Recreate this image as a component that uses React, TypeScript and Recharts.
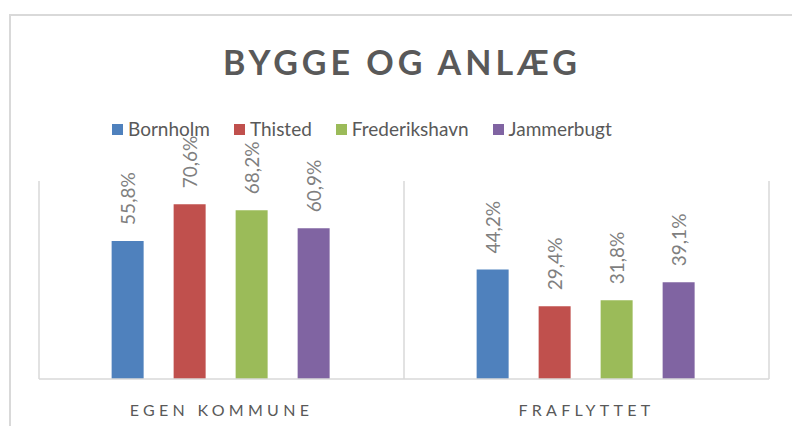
import { BarChart, Bar, XAxis, YAxis, CartesianGrid, LabelList } from "recharts";

// categories and series
const CATEGORIES = ["EGEN KOMMUNE", "FRAFLYTTET"];
const SERIES = ["Bornholm", "Thisted", "Frederikshavn", "Jammerbugt"];
const COLORS = ["#4F81BD", "#C0504D", "#9BBB59", "#8064A2"];

// percent values per category
const BORNHOLM = [55.8, 44.2];
const THISTED = [70.6, 29.4];
const FREDERIKSHAVN = [68.2, 31.8];
const JAMMERBUGT = [60.9, 39.1];

const VALUES = [BORNHOLM, THISTED, FREDERIKSHAVN, JAMMERBUGT];

const data = CATEGORIES.map((category, i) => {
  const row: Record<string, string | number> = { category };
  SERIES.forEach((s, j) => {
    row[s] = VALUES[j][i];
  });
  return row;
});

const FONT = "Lato, 'Open Sans', sans-serif";

function ValueLabel(props: any) {
  const { x, y, width, value } = props;
  const cx = x + width / 2;
  const ty = y - 16;
  return (
    <text
      x={cx}
      y={ty}
      transform={`rotate(-90 ${cx} ${ty})`}
      textAnchor="start"
      dominantBaseline="central"
      fill="#7F7F7F"
      fontSize={19}
      fontFamily={FONT}
    >
      {value.toFixed(1).replace(".", ",")}%
    </text>
  );
}

function CategoryTick(props: any) {
  const { x, y, payload } = props;
  return (
    <text
      x={x}
      y={y + 22}
      textAnchor="middle"
      fill="#595959"
      fontSize={16}
      fontFamily={FONT}
      letterSpacing={4.3}
      dominantBaseline="central"
    >
      {payload.value}
    </text>
  );
}

export default function App() {
  return (
    <div
      style={{
        position: "absolute",
        left: 0,
        top: 0,
        width: 792,
        height: 426,
        overflow: "hidden",
        background: "#fff",
        fontFamily: FONT,
      }}
    >
      {/* chart frame */}
      <div
        style={{
          position: "absolute",
          left: 9,
          top: 14,
          width: 820,
          height: 440,
          border: "2px solid #D9D9D9",
        }}
      />
      <div
        style={{
          position: "absolute",
          left: 0,
          top: 40,
          width: 804,
          textAlign: "center",
          fontSize: 34,
          fontWeight: 700,
          letterSpacing: 4,
          color: "#595959",
          lineHeight: "44px",
        }}
      >
        BYGGE OG ANLÆG
      </div>
      {/* legend */}
      <div
        style={{
          position: "absolute",
          left: 112,
          top: 116,
          display: "flex",
          gap: 24,
          alignItems: "center",
          fontSize: 19,
          color: "#595959",
          lineHeight: "26px",
        }}
      >
        {SERIES.map((s, i) => (
          <div key={s} style={{ display: "flex", alignItems: "center", gap: 5 }}>
            <span
              style={{ width: 11, height: 11, background: COLORS[i], display: "inline-block" }}
            />
            <span>{s}</span>
          </div>
        ))}
      </div>
      <div style={{ position: "absolute", left: 0, top: 0 }}>
        <BarChart
          width={792}
          height={426}
          data={data}
          margin={{ top: 181, right: 23, left: 39, bottom: 0 }}
          barCategoryGap="19.9%"
          barGap={30}
        >
          <CartesianGrid
            horizontal={false}
            stroke="#D9D9D9"
            strokeWidth={1.5}
            verticalCoordinatesGenerator={({ offset }: any) => [
              offset.left,
              offset.left + offset.width / 2,
              offset.left + offset.width,
            ]}
          />
          <XAxis
            dataKey="category"
            height={47}
            axisLine={{ stroke: "#D9D9D9", strokeWidth: 1.5 }}
            tickLine={false}
            tick={<CategoryTick />}
            interval={0}
          />
          <YAxis hide domain={[0, 80]} />
          {SERIES.map((s, i) => (
            <Bar key={s} dataKey={s} fill={COLORS[i]} isAnimationActive={false}>
              <LabelList dataKey={s} content={<ValueLabel />} />
            </Bar>
          ))}
        </BarChart>
      </div>
    </div>
  );
}
